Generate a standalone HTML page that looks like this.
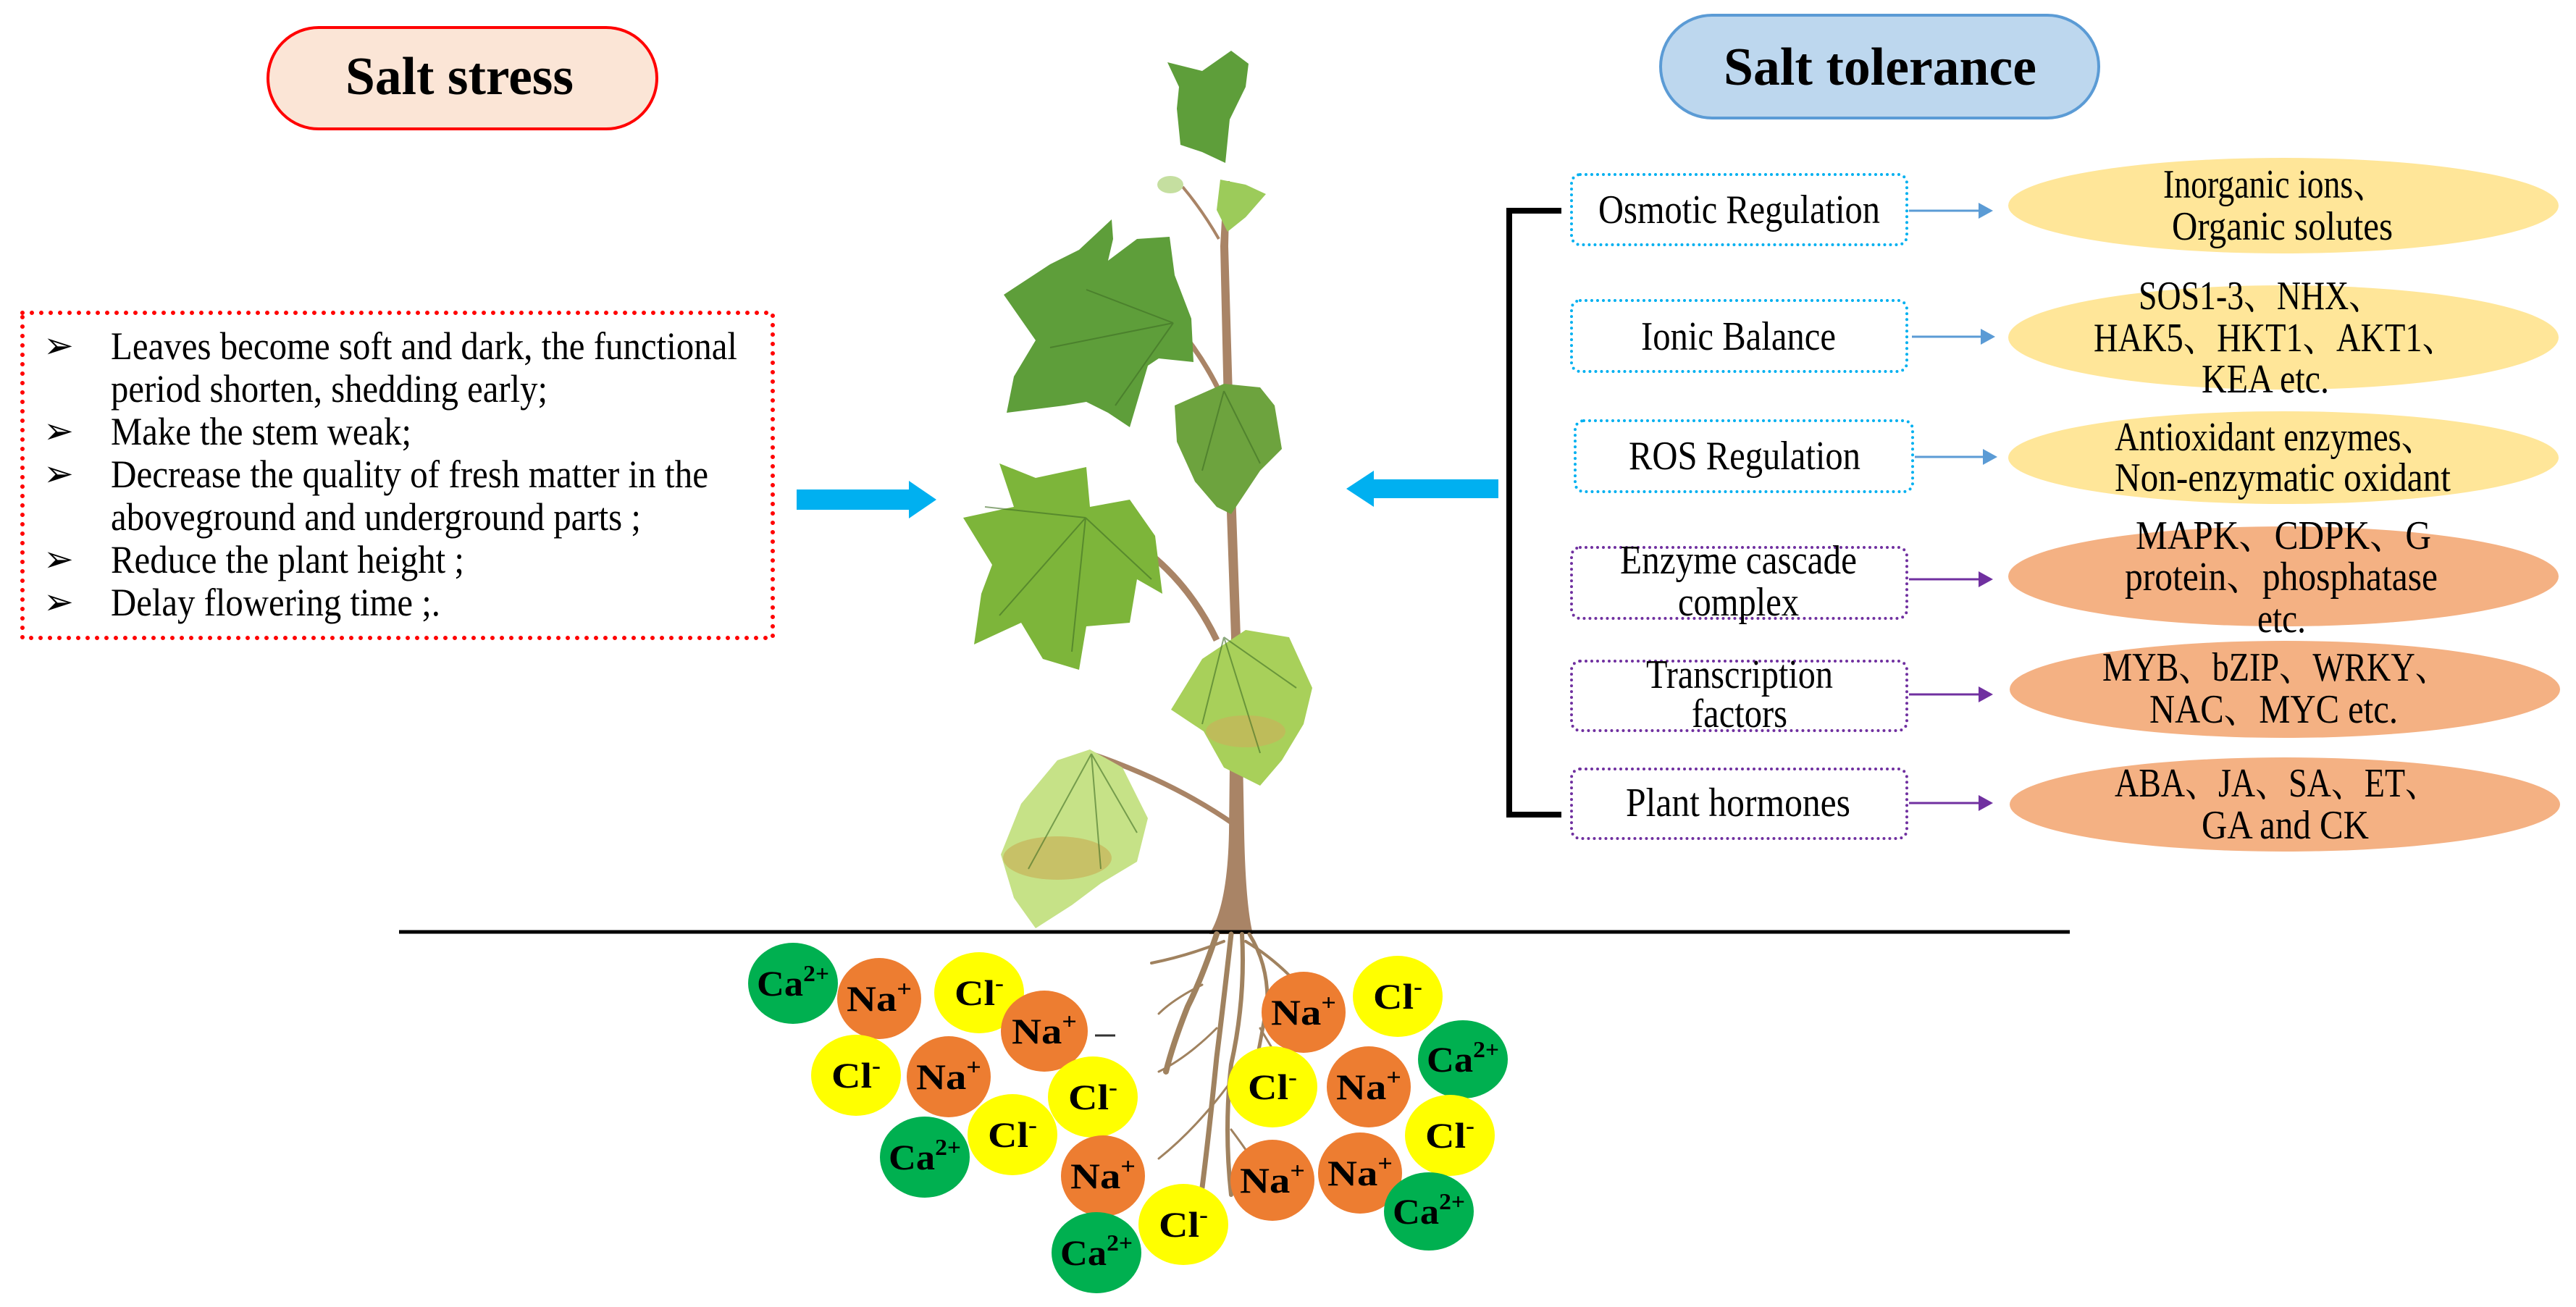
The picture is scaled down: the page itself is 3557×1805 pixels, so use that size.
<!DOCTYPE html>
<html><head><meta charset="utf-8"><style>html,body{margin:0;padding:0;background:#fff}svg{display:block}</style></head>
<body>
<svg width="3557" height="1805" viewBox="0 0 3557 1805" xmlns="http://www.w3.org/2000/svg" font-family="'Liberation Serif', serif">
<rect width="3557" height="1805" fill="#fff"/>

<rect x="370" y="38" width="537" height="140" rx="70" fill="#FBE5D6" stroke="#FF0000" stroke-width="4"/>
<text x="477" y="130" font-size="74" font-weight="bold" textLength="315" lengthAdjust="spacingAndGlyphs">Salt stress</text>

<rect x="31" y="432" width="1036" height="449" fill="none" stroke="#FF0000" stroke-width="6" stroke-dasharray="0 13" stroke-linecap="round"/>
<g font-size="54" fill="#000">
<text x="153" y="496" textLength="865" lengthAdjust="spacingAndGlyphs">Leaves become soft and dark, the functional</text>
<text x="153" y="555" textLength="603" lengthAdjust="spacingAndGlyphs">period shorten, shedding early;</text>
<text x="153" y="614" textLength="415" lengthAdjust="spacingAndGlyphs">Make the stem weak;</text>
<text x="153" y="673" textLength="825" lengthAdjust="spacingAndGlyphs">Decrease the quality of fresh matter in the</text>
<text x="153" y="732" textLength="732" lengthAdjust="spacingAndGlyphs">aboveground and underground parts ;</text>
<text x="153" y="791" textLength="488" lengthAdjust="spacingAndGlyphs">Reduce the plant height ;</text>
<text x="153" y="850" textLength="455" lengthAdjust="spacingAndGlyphs">Delay flowering time ;.</text>
</g>
<g font-family="'DejaVu Sans', sans-serif" font-size="50">
<text x="60" y="494">➢</text><text x="60" y="612">➢</text><text x="60" y="671">➢</text><text x="60" y="789">➢</text><text x="60" y="848">➢</text>
</g>

<path d="M1100,676 L1255,676 L1255,664 L1293,690 L1255,716 L1255,704 L1100,704 Z" fill="#00B0F0"/>
<path d="M2069,662 L1897,662 L1897,650 L1859,675 L1897,700 L1897,688 L2069,688 Z" fill="#00B0F0"/>

<rect x="2293" y="21" width="605" height="142" rx="71" fill="#BDD7EE" stroke="#5B9BD5" stroke-width="4"/>
<text x="2380" y="117" font-size="74" font-weight="bold" textLength="432" lengthAdjust="spacingAndGlyphs">Salt tolerance</text>

<path d="M2156,291 L2084,291 L2084,1125 L2156,1125" fill="none" stroke="#000" stroke-width="8"/>

<g fill="none" stroke-width="4" stroke-dasharray="0 8" stroke-linecap="round">
<rect x="2170" y="241" width="463" height="97" rx="12" stroke="#00B0F0"/>
<rect x="2170" y="415" width="463" height="98" rx="12" stroke="#00B0F0"/>
<rect x="2175" y="581" width="466" height="98" rx="12" stroke="#00B0F0"/>
<rect x="2170" y="756" width="463" height="98" rx="12" stroke="#7030A0"/>
<rect x="2170" y="913" width="463" height="96" rx="12" stroke="#7030A0"/>
<rect x="2170" y="1062" width="463" height="96" rx="12" stroke="#7030A0"/>
</g>
<g font-size="56">
<text x="2207" y="308" textLength="389" lengthAdjust="spacingAndGlyphs">Osmotic Regulation</text>
<text x="2266" y="483" textLength="269" lengthAdjust="spacingAndGlyphs">Ionic Balance</text>
<text x="2249" y="648" textLength="320" lengthAdjust="spacingAndGlyphs">ROS Regulation</text>
<text x="2237" y="792" textLength="327" lengthAdjust="spacingAndGlyphs">Enzyme cascade</text>
<text x="2317" y="850" textLength="167" lengthAdjust="spacingAndGlyphs">complex</text>
<text x="2273" y="950" textLength="258" lengthAdjust="spacingAndGlyphs">Transcription</text>
<text x="2336" y="1004" textLength="132" lengthAdjust="spacingAndGlyphs">factors</text>
<text x="2245" y="1127" textLength="310" lengthAdjust="spacingAndGlyphs">Plant hormones</text>
</g>

<g stroke-width="3">
<line x1="2636" y1="291" x2="2735" y2="291" stroke="#5B9BD5"/><path d="M2732,280 L2752,291 L2732,302 Z" fill="#5B9BD5"/>
<line x1="2640" y1="465" x2="2738" y2="465" stroke="#5B9BD5"/><path d="M2735,454 L2755,465 L2735,476 Z" fill="#5B9BD5"/>
<line x1="2644" y1="631" x2="2741" y2="631" stroke="#5B9BD5"/><path d="M2738,620 L2758,631 L2738,642 Z" fill="#5B9BD5"/>
<line x1="2636" y1="800" x2="2735" y2="800" stroke="#7030A0"/><path d="M2732,789 L2752,800 L2732,811 Z" fill="#7030A0"/>
<line x1="2636" y1="959" x2="2735" y2="959" stroke="#7030A0"/><path d="M2732,948 L2752,959 L2732,970 Z" fill="#7030A0"/>
<line x1="2636" y1="1109" x2="2735" y2="1109" stroke="#7030A0"/><path d="M2732,1098 L2752,1109 L2732,1120 Z" fill="#7030A0"/>
</g>

<ellipse cx="3153" cy="284" rx="380" ry="66" fill="#FFE699"/>
<ellipse cx="3153" cy="466" rx="380" ry="72" fill="#FFE699"/>
<ellipse cx="3153" cy="632" rx="380" ry="64" fill="#FFE699"/>
<ellipse cx="3153" cy="796" rx="380" ry="69" fill="#F4B183"/>
<ellipse cx="3155" cy="952" rx="380" ry="67" fill="#F4B183"/>
<ellipse cx="3155" cy="1111" rx="380" ry="65" fill="#F4B183"/>
<g font-size="56" font-family="'Liberation Serif','Noto Serif CJK SC',serif">
<text x="2987" y="273" textLength="308" lengthAdjust="spacingAndGlyphs">Inorganic ions、</text>
<text x="2999" y="331" textLength="305" lengthAdjust="spacingAndGlyphs">Organic solutes</text>
<text x="2953" y="427" textLength="336" lengthAdjust="spacingAndGlyphs">SOS1-3、NHX、</text>
<text x="2891" y="485" textLength="500" lengthAdjust="spacingAndGlyphs">HAK5、HKT1、AKT1、</text>
<text x="3040" y="542" textLength="176" lengthAdjust="spacingAndGlyphs">KEA etc.</text>
<text x="2920" y="622" textLength="442" lengthAdjust="spacingAndGlyphs">Antioxidant enzymes、</text>
<text x="2920" y="678" textLength="464" lengthAdjust="spacingAndGlyphs">Non-enzymatic oxidant</text>
<text x="2949" y="758" textLength="408" lengthAdjust="spacingAndGlyphs">MAPK、CDPK、G</text>
<text x="2934" y="815" textLength="432" lengthAdjust="spacingAndGlyphs">protein、phosphatase</text>
<text x="3117" y="873" textLength="67" lengthAdjust="spacingAndGlyphs">etc.</text>
<text x="2903" y="940" textLength="478" lengthAdjust="spacingAndGlyphs">MYB、bZIP、WRKY、</text>
<text x="2968" y="998" textLength="343" lengthAdjust="spacingAndGlyphs">NAC、MYC etc.</text>
<text x="2920" y="1100" textLength="447" lengthAdjust="spacingAndGlyphs">ABA、JA、SA、ET、</text>
<text x="3040" y="1158" textLength="231" lengthAdjust="spacingAndGlyphs">GA and CK</text>
</g>

<g>
<path d="M1621,446 Q1660,490 1686,545" stroke="#A98466" stroke-width="7" fill="none"/>
<path d="M1499,715 Q1620,760 1680,884" stroke="#A98466" stroke-width="9" fill="none"/>
<path d="M1507,1041 Q1620,1080 1702,1137" stroke="#A98466" stroke-width="7" fill="none"/>
<path d="M1670,1290 Q1695,1250 1697,1150 L1700,880 L1692,650 L1685,340 L1690,250 L1698,250 L1696,340 L1705,650 L1713,880 L1718,1150 Q1720,1250 1730,1290 Z" fill="#A98466"/>
<path d="M1683,330 Q1660,290 1633,258" stroke="#A98466" stroke-width="4" fill="none"/>
<path d="M1612,86 L1660,98 L1700,70 L1724,88 L1720,120 L1698,165 L1692,225 L1660,210 L1630,200 L1625,150 L1628,120 Z" fill="#5E9E3A"/>
<ellipse cx="1616" cy="255" rx="18" ry="12" fill="#C5DFA0"/>
<path d="M1685,248 L1720,255 L1748,268 L1720,300 L1695,320 L1680,290 Z" fill="#9CCB5A"/>
<path d="M1386,407 L1450,365 L1490,345 L1535,303 L1537,330 L1530,360 L1570,330 L1615,327 L1622,380 L1645,440 L1648,500 L1600,495 L1585,505 L1560,590 L1530,570 L1500,555 L1470,560 L1390,570 L1400,520 L1430,470 Z" fill="#5E9E3A"/>
<path d="M1622,560 L1690,530 L1740,535 L1760,560 L1770,620 L1740,650 L1700,710 L1680,700 L1650,665 L1625,610 Z" fill="#6DA33E"/>
<path d="M1330,715 L1400,700 L1380,640 L1430,660 L1500,645 L1505,700 L1560,690 L1595,740 L1605,820 L1570,800 L1560,860 L1500,865 L1490,925 L1440,910 L1410,860 L1345,890 L1355,820 L1370,780 Z" fill="#7DB53A"/>
<path d="M1617,980 L1660,910 L1720,870 L1780,880 L1812,950 L1800,1000 L1770,1050 L1740,1085 L1690,1060 L1662,1010 Z" fill="#A8D05A"/>
<ellipse cx="1720" cy="1010" rx="55" ry="22" fill="#C7B35A" opacity="0.7"/>
<path d="M1382,1180 L1410,1110 L1460,1050 L1505,1035 L1550,1060 L1585,1130 L1570,1190 L1520,1220 L1480,1250 L1430,1282 L1400,1240 Z" fill="#C6E287"/>
<ellipse cx="1460" cy="1185" rx="75" ry="30" fill="#C7B35A" opacity="0.7"/>
<g stroke="#3f6e25" stroke-width="2" fill="none" opacity="0.6">
<path d="M1620,446 L1500,400 M1620,446 L1450,480 M1620,446 L1540,560"/>
<path d="M1499,715 L1360,700 M1499,715 L1380,850 M1499,715 L1480,900 M1499,715 L1590,800"/>
<path d="M1690,880 L1660,1000 M1690,880 L1740,1040 M1690,880 L1790,950"/>
<path d="M1507,1041 L1420,1200 M1507,1041 L1520,1200 M1507,1041 L1570,1150"/>
<path d="M1690,540 L1660,650 M1690,540 L1740,640"/>
</g>
</g>

<line x1="551" y1="1287" x2="2858" y2="1287" stroke="#000" stroke-width="5"/>

<g stroke="#A0825F" fill="none" stroke-linecap="round">
<path d="M1680,1290 Q1660,1350 1640,1390 Q1620,1440 1610,1480" stroke-width="8"/>
<path d="M1700,1290 Q1690,1380 1680,1460 Q1670,1560 1660,1640" stroke-width="7"/>
<path d="M1715,1290 Q1720,1380 1700,1470 Q1690,1560 1700,1650" stroke-width="6"/>
<path d="M1725,1290 Q1750,1330 1750,1380 Q1740,1450 1720,1530" stroke-width="5"/>
<path d="M1690,1300 Q1640,1320 1590,1330" stroke-width="4"/>
<path d="M1720,1300 Q1770,1330 1810,1380" stroke-width="4"/>
<path d="M1660,1360 Q1620,1380 1600,1400" stroke-width="3"/>
<path d="M1680,1420 Q1640,1460 1600,1480" stroke-width="3"/>
<path d="M1695,1500 Q1650,1560 1600,1600" stroke-width="3"/>
<path d="M1740,1420 Q1770,1470 1800,1520" stroke-width="3"/>
<path d="M1700,1560 Q1730,1600 1740,1620" stroke-width="3"/>
</g>

<g font-weight="bold" font-size="50" text-anchor="middle">
<g><ellipse cx="1095" cy="1358" rx="62" ry="56" fill="#00B050"/><text x="1095" y="1375" textLength="100" lengthAdjust="spacingAndGlyphs">Ca<tspan font-size="32" dy="-20">2+</tspan></text></g>
<g><ellipse cx="1214" cy="1379" rx="58" ry="56" fill="#ED7D31"/><text x="1214" y="1396" textLength="90" lengthAdjust="spacingAndGlyphs">Na<tspan font-size="32" dy="-20">+</tspan></text></g>
<g><ellipse cx="1352" cy="1371" rx="62" ry="56" fill="#FFFF00"/><text x="1352" y="1388" textLength="68" lengthAdjust="spacingAndGlyphs">Cl<tspan font-size="32" dy="-20">-</tspan></text></g>
<g><ellipse cx="1182" cy="1485" rx="62" ry="56" fill="#FFFF00"/><text x="1182" y="1502" textLength="68" lengthAdjust="spacingAndGlyphs">Cl<tspan font-size="32" dy="-20">-</tspan></text></g>
<g><ellipse cx="1310" cy="1487" rx="58" ry="56" fill="#ED7D31"/><text x="1310" y="1504" textLength="90" lengthAdjust="spacingAndGlyphs">Na<tspan font-size="32" dy="-20">+</tspan></text></g>
<g><ellipse cx="1442" cy="1424" rx="60" ry="56" fill="#ED7D31"/><text x="1442" y="1441" textLength="90" lengthAdjust="spacingAndGlyphs">Na<tspan font-size="32" dy="-20">+</tspan></text></g>
<line x1="1512" y1="1430" x2="1540" y2="1430" stroke="#333" stroke-width="3"/>
<g><ellipse cx="1509" cy="1515" rx="62" ry="56" fill="#FFFF00"/><text x="1509" y="1532" textLength="68" lengthAdjust="spacingAndGlyphs">Cl<tspan font-size="32" dy="-20">-</tspan></text></g>
<g><ellipse cx="1398" cy="1567" rx="62" ry="56" fill="#FFFF00"/><text x="1398" y="1584" textLength="68" lengthAdjust="spacingAndGlyphs">Cl<tspan font-size="32" dy="-20">-</tspan></text></g>
<g><ellipse cx="1277" cy="1598" rx="62" ry="56" fill="#00B050"/><text x="1277" y="1615" textLength="100" lengthAdjust="spacingAndGlyphs">Ca<tspan font-size="32" dy="-20">2+</tspan></text></g>
<g><ellipse cx="1523" cy="1624" rx="58" ry="56" fill="#ED7D31"/><text x="1523" y="1641" textLength="90" lengthAdjust="spacingAndGlyphs">Na<tspan font-size="32" dy="-20">+</tspan></text></g>
<g><ellipse cx="1514" cy="1730" rx="62" ry="56" fill="#00B050"/><text x="1514" y="1747" textLength="100" lengthAdjust="spacingAndGlyphs">Ca<tspan font-size="32" dy="-20">2+</tspan></text></g>
<g><ellipse cx="1634" cy="1691" rx="62" ry="56" fill="#FFFF00"/><text x="1634" y="1708" textLength="68" lengthAdjust="spacingAndGlyphs">Cl<tspan font-size="32" dy="-20">-</tspan></text></g>
<g><ellipse cx="1800" cy="1398" rx="58" ry="56" fill="#ED7D31"/><text x="1800" y="1415" textLength="90" lengthAdjust="spacingAndGlyphs">Na<tspan font-size="32" dy="-20">+</tspan></text></g>
<g><ellipse cx="1930" cy="1376" rx="62" ry="56" fill="#FFFF00"/><text x="1930" y="1393" textLength="68" lengthAdjust="spacingAndGlyphs">Cl<tspan font-size="32" dy="-20">-</tspan></text></g>
<g><ellipse cx="1757" cy="1501" rx="62" ry="56" fill="#FFFF00"/><text x="1757" y="1518" textLength="68" lengthAdjust="spacingAndGlyphs">Cl<tspan font-size="32" dy="-20">-</tspan></text></g>
<g><ellipse cx="1890" cy="1501" rx="58" ry="56" fill="#ED7D31"/><text x="1890" y="1518" textLength="90" lengthAdjust="spacingAndGlyphs">Na<tspan font-size="32" dy="-20">+</tspan></text></g>
<g><ellipse cx="2020" cy="1463" rx="62" ry="54" fill="#00B050"/><text x="2020" y="1480" textLength="100" lengthAdjust="spacingAndGlyphs">Ca<tspan font-size="32" dy="-20">2+</tspan></text></g>
<g><ellipse cx="2002" cy="1568" rx="62" ry="56" fill="#FFFF00"/><text x="2002" y="1585" textLength="68" lengthAdjust="spacingAndGlyphs">Cl<tspan font-size="32" dy="-20">-</tspan></text></g>
<g><ellipse cx="1757" cy="1630" rx="58" ry="56" fill="#ED7D31"/><text x="1757" y="1647" textLength="90" lengthAdjust="spacingAndGlyphs">Na<tspan font-size="32" dy="-20">+</tspan></text></g>
<g><ellipse cx="1878" cy="1620" rx="58" ry="56" fill="#ED7D31"/><text x="1878" y="1637" textLength="90" lengthAdjust="spacingAndGlyphs">Na<tspan font-size="32" dy="-20">+</tspan></text></g>
<g><ellipse cx="1973" cy="1673" rx="62" ry="54" fill="#00B050"/><text x="1973" y="1690" textLength="100" lengthAdjust="spacingAndGlyphs">Ca<tspan font-size="32" dy="-20">2+</tspan></text></g>
</g>
</svg>
</body></html>
